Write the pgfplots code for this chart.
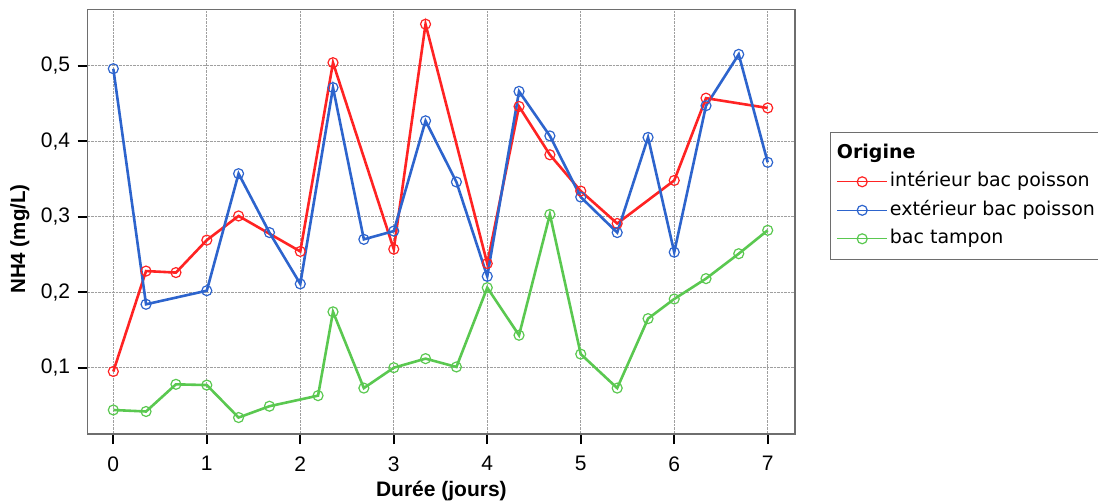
\documentclass[border=0pt]{standalone}
\usepackage{pgfplots}
\pgfplotsset{compat=1.18}
\usepackage{fontspec}
\setmainfont{Liberation Sans}
\newfontfamily\legfont{DejaVu Sans}
\definecolor{cred}{RGB}{255,35,35}
\definecolor{cblue}{RGB}{45,100,205}
\definecolor{cgreen}{RGB}{90,200,80}
\definecolor{frame}{RGB}{110,110,110}
\pgfplotsset{
  legimg/.style={legend image code/.code={%
    \draw[#1, line width=1.4pt] (0pt,0pt) -- (50pt,0pt);
    \draw[#1, line width=1.2pt] (25pt,0pt) circle[radius=5pt];}},
}
\begin{document}
\begin{tikzpicture}
\begin{axis}[
  at={(87.7pt,67pt)}, anchor=south west,
  width=707.3pt, height=424.7pt, scale only axis,
  xmin=-0.274, xmax=7.292, ymin=0.0122, ymax=0.5747,
  xtick={0,1,2,3,4,5,6,7},
  xticklabels={0,1,2,3,4,5,6,7},
  ytick={0.1,0.2,0.3,0.4,0.5},
  yticklabels={{0,1},{0,2},{0,3},{0,4},{0,5}},
  grid=major,
  major grid style={densely dotted, gray!75, line width=0.8pt},
  axis line style={draw=frame, line width=1.5pt},
  tick align=outside, xtick pos=bottom, ytick pos=left,
  major tick length=10pt,
  tick style={black, line width=2pt},
  tick label style={font=\fontsize{21}{24}\selectfont},
  xticklabel style={yshift=-9pt},
  yticklabel style={xshift=-4pt},
  xlabel={\textbf{Durée (jours)}},
  ylabel={\textbf{NH4 (mg/L)}},
  every axis x label/.style={at={(axis description cs:0.5,-0.134)}, anchor=center, font=\fontsize{21}{24}\selectfont},
  every axis y label/.style={at={(axis description cs:-0.096,0.459)}, anchor=center, rotate=90, font=\fontsize{20.5}{24}\selectfont},
  legend style={at={(axis description cs:1.0495,0.711)}, anchor=north west,
    draw=frame, line width=1pt, fill=white,
    font=\legfont\fontsize{19}{23}\selectfont,
    inner xsep=6pt, inner ysep=9.5pt,
    nodes={inner sep=2pt, text height=14pt, text depth=4.5pt}, row sep=6pt},
  legend cell align=left,
  every axis plot/.append style={line width=2.6pt, mark=o, mark size=5pt, mark options={solid, line width=1.2pt}},
]
\addlegendimage{empty legend}
\addlegendentry{\hspace*{-53pt}\textbf{Origine}}
\addplot[color=cred, legimg=cred] coordinates {
(0,0.095) (0.35,0.228) (0.67,0.226) (1,0.269) (1.34,0.301) (2,0.254) (2.35,0.504)
(3,0.257) (3.34,0.555) (4,0.238) (4.34,0.446) (4.67,0.382) (5,0.334) (5.39,0.291)
(6,0.348) (6.34,0.457) (7,0.444)};
\addlegendentry{intérieur bac poisson}
\addplot[color=cblue, legimg=cblue] coordinates {
(0,0.496) (0.35,0.184) (1,0.202) (1.34,0.357) (1.67,0.279) (2,0.211) (2.35,0.471)
(2.68,0.270) (3,0.281) (3.34,0.427) (3.67,0.346) (4,0.221) (4.34,0.466) (4.67,0.407)
(5,0.326) (5.39,0.279) (5.72,0.405) (6,0.253) (6.34,0.447) (6.69,0.515) (7,0.372)};
\addlegendentry{extérieur bac poisson}
\addplot[color=cgreen, legimg=cgreen] coordinates {
(0,0.044) (0.35,0.042) (0.67,0.078) (1,0.077) (1.34,0.034) (1.67,0.049) (2.19,0.063)
(2.35,0.174) (2.68,0.073) (3,0.100) (3.34,0.112) (3.67,0.101) (4,0.206) (4.34,0.143)
(4.67,0.303) (5,0.118) (5.39,0.073) (5.72,0.165) (6,0.191) (6.34,0.218) (6.69,0.251)
(7,0.282)};
\addlegendentry{bac tampon}
\end{axis}
\pgfresetboundingbox
\path[use as bounding box] (0,0) rectangle (1098pt,501pt);
\end{tikzpicture}
\end{document}
